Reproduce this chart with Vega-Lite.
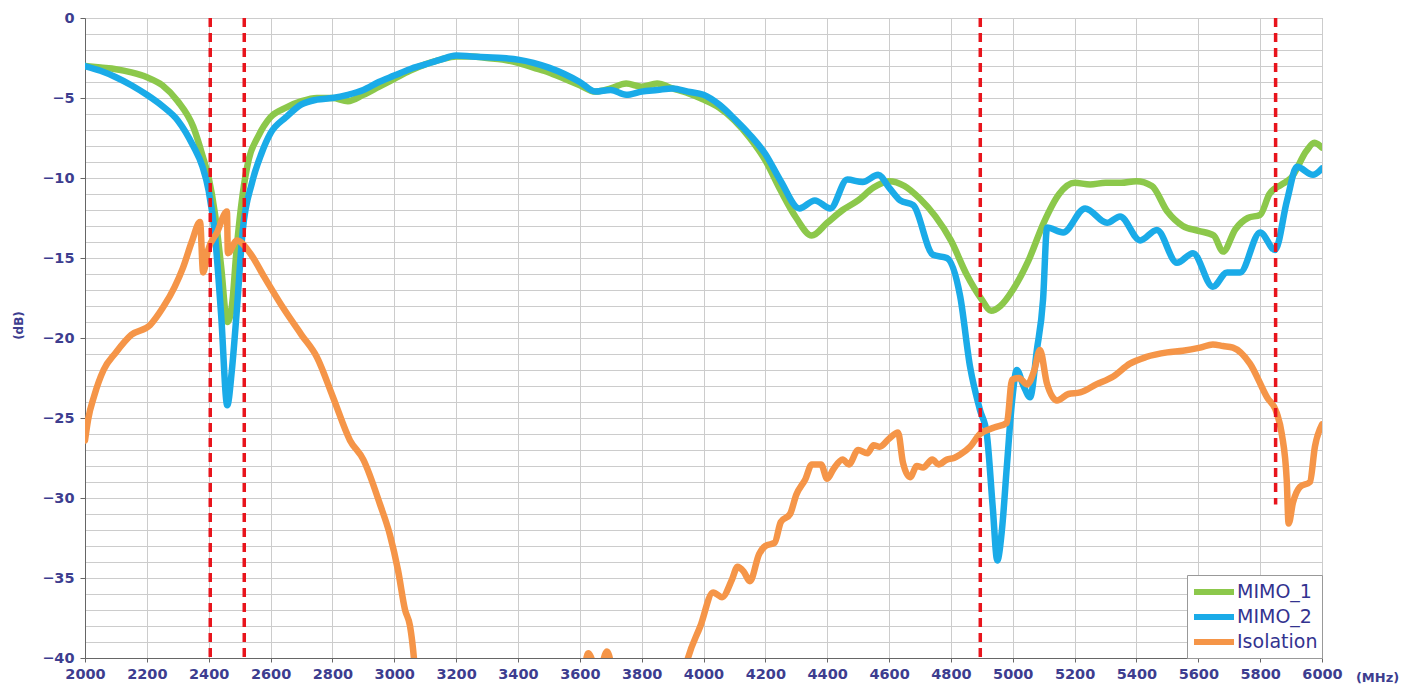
{
  "$schema": "https://vega.github.io/schema/vega-lite/v6.json",
  "autosize": {"type": "none"},
  "width": 1237,
  "height": 640,
  "padding": {"left": 85, "top": 18, "right": 102, "bottom": 33},
  "background": "white",
  "config": {
    "view": {"stroke": "#a8a8a8", "strokeWidth": 1},
    "axis": {
      "labelFont": "DejaVu Sans",
      "labelFontWeight": "bold",
      "labelFontSize": 14.5,
      "labelColor": "#3d3d8f",
      "gridColor": "#cccccc",
      "gridWidth": 1,
      "domainColor": "#666666",
      "tickColor": "#666666",
      "titleFont": "DejaVu Sans",
      "titleFontWeight": "bold",
      "titleColor": "#3d3d8f"
    }
  },
  "datasets": {
    "curves": [
      {"s":"MIMO_1","f":2000,"v":-3.0},{"s":"MIMO_1","f":2050,"v":-3.1},{"s":"MIMO_1","f":2100,"v":-3.2},{"s":"MIMO_1","f":2150,"v":-3.4},{"s":"MIMO_1","f":2200,"v":-3.7},{"s":"MIMO_1","f":2250,"v":-4.2},{"s":"MIMO_1","f":2300,"v":-5.2},{"s":"MIMO_1","f":2350,"v":-6.8},{"s":"MIMO_1","f":2380,"v":-8.6},{"s":"MIMO_1","f":2400,"v":-10.0},{"s":"MIMO_1","f":2420,"v":-12.2},{"s":"MIMO_1","f":2440,"v":-15.5},{"s":"MIMO_1","f":2460,"v":-19.0},{"s":"MIMO_1","f":2475,"v":-18.0},{"s":"MIMO_1","f":2490,"v":-14.5},{"s":"MIMO_1","f":2510,"v":-11.0},{"s":"MIMO_1","f":2530,"v":-8.8},{"s":"MIMO_1","f":2560,"v":-7.4},{"s":"MIMO_1","f":2600,"v":-6.2},{"s":"MIMO_1","f":2650,"v":-5.6},{"s":"MIMO_1","f":2700,"v":-5.2},{"s":"MIMO_1","f":2750,"v":-5.0},{"s":"MIMO_1","f":2800,"v":-5.0},{"s":"MIMO_1","f":2850,"v":-5.2},{"s":"MIMO_1","f":2900,"v":-4.8},{"s":"MIMO_1","f":2950,"v":-4.3},{"s":"MIMO_1","f":3000,"v":-3.8},{"s":"MIMO_1","f":3050,"v":-3.3},{"s":"MIMO_1","f":3100,"v":-2.9},{"s":"MIMO_1","f":3150,"v":-2.6},{"s":"MIMO_1","f":3200,"v":-2.4},{"s":"MIMO_1","f":3250,"v":-2.4},{"s":"MIMO_1","f":3300,"v":-2.5},{"s":"MIMO_1","f":3350,"v":-2.6},{"s":"MIMO_1","f":3400,"v":-2.8},{"s":"MIMO_1","f":3450,"v":-3.1},{"s":"MIMO_1","f":3500,"v":-3.4},{"s":"MIMO_1","f":3550,"v":-3.8},{"s":"MIMO_1","f":3600,"v":-4.2},{"s":"MIMO_1","f":3650,"v":-4.6},{"s":"MIMO_1","f":3700,"v":-4.4},{"s":"MIMO_1","f":3750,"v":-4.1},{"s":"MIMO_1","f":3800,"v":-4.3},{"s":"MIMO_1","f":3850,"v":-4.1},{"s":"MIMO_1","f":3900,"v":-4.4},{"s":"MIMO_1","f":3950,"v":-4.7},{"s":"MIMO_1","f":4000,"v":-5.1},{"s":"MIMO_1","f":4050,"v":-5.6},{"s":"MIMO_1","f":4100,"v":-6.4},{"s":"MIMO_1","f":4150,"v":-7.5},{"s":"MIMO_1","f":4200,"v":-8.9},{"s":"MIMO_1","f":4250,"v":-10.8},{"s":"MIMO_1","f":4300,"v":-12.5},{"s":"MIMO_1","f":4350,"v":-13.6},{"s":"MIMO_1","f":4400,"v":-12.8},{"s":"MIMO_1","f":4450,"v":-12.0},{"s":"MIMO_1","f":4500,"v":-11.4},{"s":"MIMO_1","f":4550,"v":-10.6},{"s":"MIMO_1","f":4600,"v":-10.2},{"s":"MIMO_1","f":4650,"v":-10.5},{"s":"MIMO_1","f":4700,"v":-11.3},{"s":"MIMO_1","f":4750,"v":-12.4},{"s":"MIMO_1","f":4800,"v":-13.9},{"s":"MIMO_1","f":4850,"v":-16.0},{"s":"MIMO_1","f":4900,"v":-17.6},{"s":"MIMO_1","f":4930,"v":-18.3},{"s":"MIMO_1","f":4960,"v":-18.0},{"s":"MIMO_1","f":5000,"v":-17.0},{"s":"MIMO_1","f":5050,"v":-15.2},{"s":"MIMO_1","f":5100,"v":-12.8},{"s":"MIMO_1","f":5150,"v":-11.0},{"s":"MIMO_1","f":5200,"v":-10.3},{"s":"MIMO_1","f":5250,"v":-10.4},{"s":"MIMO_1","f":5300,"v":-10.3},{"s":"MIMO_1","f":5350,"v":-10.3},{"s":"MIMO_1","f":5400,"v":-10.2},{"s":"MIMO_1","f":5450,"v":-10.5},{"s":"MIMO_1","f":5500,"v":-12.1},{"s":"MIMO_1","f":5550,"v":-13.0},{"s":"MIMO_1","f":5600,"v":-13.3},{"s":"MIMO_1","f":5650,"v":-13.6},{"s":"MIMO_1","f":5680,"v":-14.6},{"s":"MIMO_1","f":5720,"v":-13.2},{"s":"MIMO_1","f":5760,"v":-12.5},{"s":"MIMO_1","f":5800,"v":-12.3},{"s":"MIMO_1","f":5830,"v":-11.0},{"s":"MIMO_1","f":5870,"v":-10.4},{"s":"MIMO_1","f":5900,"v":-10.0},{"s":"MIMO_1","f":5950,"v":-8.3},{"s":"MIMO_1","f":5975,"v":-7.8},{"s":"MIMO_1","f":6000,"v":-8.1},
      {"s":"MIMO_2","f":2000,"v":-3.0},{"s":"MIMO_2","f":2050,"v":-3.3},{"s":"MIMO_2","f":2100,"v":-3.7},{"s":"MIMO_2","f":2150,"v":-4.2},{"s":"MIMO_2","f":2200,"v":-4.8},{"s":"MIMO_2","f":2250,"v":-5.5},{"s":"MIMO_2","f":2300,"v":-6.4},{"s":"MIMO_2","f":2350,"v":-8.0},{"s":"MIMO_2","f":2380,"v":-9.3},{"s":"MIMO_2","f":2400,"v":-10.8},{"s":"MIMO_2","f":2420,"v":-13.5},{"s":"MIMO_2","f":2440,"v":-18.5},{"s":"MIMO_2","f":2460,"v":-24.2},{"s":"MIMO_2","f":2475,"v":-22.0},{"s":"MIMO_2","f":2490,"v":-18.5},{"s":"MIMO_2","f":2510,"v":-13.3},{"s":"MIMO_2","f":2540,"v":-10.3},{"s":"MIMO_2","f":2570,"v":-8.5},{"s":"MIMO_2","f":2600,"v":-7.2},{"s":"MIMO_2","f":2650,"v":-6.2},{"s":"MIMO_2","f":2700,"v":-5.4},{"s":"MIMO_2","f":2750,"v":-5.1},{"s":"MIMO_2","f":2800,"v":-5.0},{"s":"MIMO_2","f":2850,"v":-4.8},{"s":"MIMO_2","f":2900,"v":-4.5},{"s":"MIMO_2","f":2950,"v":-4.0},{"s":"MIMO_2","f":3000,"v":-3.6},{"s":"MIMO_2","f":3050,"v":-3.2},{"s":"MIMO_2","f":3100,"v":-2.9},{"s":"MIMO_2","f":3150,"v":-2.6},{"s":"MIMO_2","f":3200,"v":-2.35},{"s":"MIMO_2","f":3250,"v":-2.4},{"s":"MIMO_2","f":3300,"v":-2.45},{"s":"MIMO_2","f":3350,"v":-2.5},{"s":"MIMO_2","f":3400,"v":-2.6},{"s":"MIMO_2","f":3450,"v":-2.8},{"s":"MIMO_2","f":3500,"v":-3.1},{"s":"MIMO_2","f":3550,"v":-3.5},{"s":"MIMO_2","f":3600,"v":-4.0},{"s":"MIMO_2","f":3650,"v":-4.6},{"s":"MIMO_2","f":3700,"v":-4.5},{"s":"MIMO_2","f":3750,"v":-4.8},{"s":"MIMO_2","f":3800,"v":-4.6},{"s":"MIMO_2","f":3850,"v":-4.5},{"s":"MIMO_2","f":3900,"v":-4.4},{"s":"MIMO_2","f":3950,"v":-4.6},{"s":"MIMO_2","f":4000,"v":-4.8},{"s":"MIMO_2","f":4050,"v":-5.4},{"s":"MIMO_2","f":4100,"v":-6.3},{"s":"MIMO_2","f":4150,"v":-7.3},{"s":"MIMO_2","f":4200,"v":-8.5},{"s":"MIMO_2","f":4250,"v":-10.2},{"s":"MIMO_2","f":4310,"v":-11.9},{"s":"MIMO_2","f":4360,"v":-11.4},{"s":"MIMO_2","f":4410,"v":-11.9},{"s":"MIMO_2","f":4465,"v":-10.1},{"s":"MIMO_2","f":4515,"v":-10.25},{"s":"MIMO_2","f":4565,"v":-9.8},{"s":"MIMO_2","f":4600,"v":-10.6},{"s":"MIMO_2","f":4636,"v":-11.4},{"s":"MIMO_2","f":4678,"v":-11.7},{"s":"MIMO_2","f":4742,"v":-14.8},{"s":"MIMO_2","f":4787,"v":-15.0},{"s":"MIMO_2","f":4830,"v":-17.4},{"s":"MIMO_2","f":4862,"v":-21.8},{"s":"MIMO_2","f":4894,"v":-24.5},{"s":"MIMO_2","f":4916,"v":-26.0},{"s":"MIMO_2","f":4935,"v":-30.5},{"s":"MIMO_2","f":4950,"v":-33.9},{"s":"MIMO_2","f":4965,"v":-32.0},{"s":"MIMO_2","f":4981,"v":-28.0},{"s":"MIMO_2","f":4998,"v":-23.9},{"s":"MIMO_2","f":5013,"v":-22.0},{"s":"MIMO_2","f":5035,"v":-23.0},{"s":"MIMO_2","f":5056,"v":-23.7},{"s":"MIMO_2","f":5078,"v":-20.75},{"s":"MIMO_2","f":5098,"v":-17.6},{"s":"MIMO_2","f":5111,"v":-13.1},{"s":"MIMO_2","f":5163,"v":-13.4},{"s":"MIMO_2","f":5234,"v":-11.9},{"s":"MIMO_2","f":5305,"v":-12.8},{"s":"MIMO_2","f":5347,"v":-12.4},{"s":"MIMO_2","f":5412,"v":-13.9},{"s":"MIMO_2","f":5466,"v":-13.25},{"s":"MIMO_2","f":5531,"v":-15.3},{"s":"MIMO_2","f":5583,"v":-14.7},{"s":"MIMO_2","f":5647,"v":-16.8},{"s":"MIMO_2","f":5693,"v":-15.9},{"s":"MIMO_2","f":5735,"v":-15.9},{"s":"MIMO_2","f":5800,"v":-13.4},{"s":"MIMO_2","f":5848,"v":-14.5},{"s":"MIMO_2","f":5887,"v":-11.4},{"s":"MIMO_2","f":5919,"v":-9.3},{"s":"MIMO_2","f":5971,"v":-9.8},{"s":"MIMO_2","f":6000,"v":-9.4},
      {"s":"Isolation","f":2000,"v":-26.4},{"s":"Isolation","f":2010,"v":-25.1},{"s":"Isolation","f":2030,"v":-23.6},{"s":"Isolation","f":2060,"v":-22.0},{"s":"Isolation","f":2100,"v":-20.9},{"s":"Isolation","f":2150,"v":-19.8},{"s":"Isolation","f":2210,"v":-19.2},{"s":"Isolation","f":2252,"v":-18.1},{"s":"Isolation","f":2290,"v":-16.8},{"s":"Isolation","f":2317,"v":-15.6},{"s":"Isolation","f":2345,"v":-14.0},{"s":"Isolation","f":2372,"v":-12.75},{"s":"Isolation","f":2382,"v":-15.9},{"s":"Isolation","f":2398,"v":-14.5},{"s":"Isolation","f":2427,"v":-13.4},{"s":"Isolation","f":2459,"v":-12.1},{"s":"Isolation","f":2462,"v":-14.7},{"s":"Isolation","f":2491,"v":-13.9},{"s":"Isolation","f":2534,"v":-14.7},{"s":"Isolation","f":2580,"v":-16.2},{"s":"Isolation","f":2640,"v":-18.1},{"s":"Isolation","f":2700,"v":-19.8},{"s":"Isolation","f":2750,"v":-21.2},{"s":"Isolation","f":2802,"v":-23.7},{"s":"Isolation","f":2857,"v":-26.4},{"s":"Isolation","f":2900,"v":-27.6},{"s":"Isolation","f":2954,"v":-30.4},{"s":"Isolation","f":2986,"v":-32.3},{"s":"Isolation","f":3012,"v":-34.5},{"s":"Isolation","f":3035,"v":-37.0},{"s":"Isolation","f":3051,"v":-38.0},{"s":"Isolation","f":3064,"v":-40.1},{"s":"Isolation","f":3080,"v":-45},{"s":"Isolation","f":3590,"v":-45},{"s":"Isolation","f":3627,"v":-39.7},{"s":"Isolation","f":3660,"v":-41},{"s":"Isolation","f":3688,"v":-39.6},{"s":"Isolation","f":3710,"v":-41},{"s":"Isolation","f":3900,"v":-45},{"s":"Isolation","f":3947,"v":-40.2},{"s":"Isolation","f":3990,"v":-38.0},{"s":"Isolation","f":4031,"v":-35.9},{"s":"Isolation","f":4060,"v":-36.2},{"s":"Isolation","f":4092,"v":-35.1},{"s":"Isolation","f":4110,"v":-34.3},{"s":"Isolation","f":4130,"v":-34.6},{"s":"Isolation","f":4150,"v":-35.2},{"s":"Isolation","f":4180,"v":-33.5},{"s":"Isolation","f":4200,"v":-33.0},{"s":"Isolation","f":4230,"v":-32.8},{"s":"Isolation","f":4250,"v":-31.5},{"s":"Isolation","f":4280,"v":-31.0},{"s":"Isolation","f":4300,"v":-29.8},{"s":"Isolation","f":4330,"v":-28.8},{"s":"Isolation","f":4350,"v":-27.9},{"s":"Isolation","f":4380,"v":-27.9},{"s":"Isolation","f":4400,"v":-28.8},{"s":"Isolation","f":4420,"v":-28.2},{"s":"Isolation","f":4450,"v":-27.6},{"s":"Isolation","f":4470,"v":-27.9},{"s":"Isolation","f":4500,"v":-27.0},{"s":"Isolation","f":4530,"v":-27.2},{"s":"Isolation","f":4550,"v":-26.7},{"s":"Isolation","f":4570,"v":-26.8},{"s":"Isolation","f":4600,"v":-26.3},{"s":"Isolation","f":4629,"v":-25.9},{"s":"Isolation","f":4645,"v":-27.8},{"s":"Isolation","f":4668,"v":-28.7},{"s":"Isolation","f":4690,"v":-28.0},{"s":"Isolation","f":4710,"v":-28.1},{"s":"Isolation","f":4740,"v":-27.6},{"s":"Isolation","f":4760,"v":-27.9},{"s":"Isolation","f":4787,"v":-27.6},{"s":"Isolation","f":4810,"v":-27.5},{"s":"Isolation","f":4829,"v":-27.3},{"s":"Isolation","f":4862,"v":-26.8},{"s":"Isolation","f":4894,"v":-26.0},{"s":"Isolation","f":4940,"v":-25.6},{"s":"Isolation","f":4981,"v":-25.3},{"s":"Isolation","f":4998,"v":-22.6},{"s":"Isolation","f":5020,"v":-22.5},{"s":"Isolation","f":5046,"v":-22.9},{"s":"Isolation","f":5070,"v":-22.0},{"s":"Isolation","f":5088,"v":-20.75},{"s":"Isolation","f":5110,"v":-22.8},{"s":"Isolation","f":5143,"v":-23.9},{"s":"Isolation","f":5180,"v":-23.5},{"s":"Isolation","f":5218,"v":-23.4},{"s":"Isolation","f":5270,"v":-22.9},{"s":"Isolation","f":5325,"v":-22.4},{"s":"Isolation","f":5379,"v":-21.6},{"s":"Isolation","f":5430,"v":-21.2},{"s":"Isolation","f":5500,"v":-20.9},{"s":"Isolation","f":5550,"v":-20.8},{"s":"Isolation","f":5606,"v":-20.6},{"s":"Isolation","f":5647,"v":-20.4},{"s":"Isolation","f":5680,"v":-20.5},{"s":"Isolation","f":5712,"v":-20.6},{"s":"Isolation","f":5767,"v":-21.6},{"s":"Isolation","f":5822,"v":-23.7},{"s":"Isolation","f":5854,"v":-24.7},{"s":"Isolation","f":5870,"v":-26.0},{"s":"Isolation","f":5886,"v":-28.9},{"s":"Isolation","f":5892,"v":-31.6},{"s":"Isolation","f":5906,"v":-30.3},{"s":"Isolation","f":5929,"v":-29.3},{"s":"Isolation","f":5961,"v":-29.0},{"s":"Isolation","f":5977,"v":-26.8},{"s":"Isolation","f":6000,"v":-25.4}
    ],
    "markers": [
      {"f": 2405, "top": 0, "bot": -40},
      {"f": 2515, "top": 0, "bot": -40},
      {"f": 4895, "top": 0, "bot": -40},
      {"f": 5850, "top": 0, "bot": -30.4}
    ]
  },
  "layer": [
    {
      "data": {"name": "curves"},
      "mark": {"type": "line", "strokeWidth": 6.5, "clip": true, "interpolate": "monotone", "strokeCap": "round", "strokeJoin": "round"},
      "encoding": {
        "x": {
          "field": "f", "type": "quantitative",
          "scale": {"domain": [2000, 6000], "nice": false},
          "axis": {
            "values": [2000,2200,2400,2600,2800,3000,3200,3400,3600,3800,4000,4200,4400,4600,4800,5000,5200,5400,5600,5800,6000],
            "tickCount": 100,
            "format": "d",
            "labelPadding": 5,
            "tickSize": 4,
            "labelFlush": false,
            "labelOverlap": false,
            "title": "(MHz)",
            "titleFontSize": 13,
            "titleAlign": "center",
            "titleBaseline": "middle",
            "titleAnchor": "start",
            "titleX": 1292,
            "titleY": 19
          }
        },
        "y": {
          "field": "v", "type": "quantitative",
          "scale": {"domain": [-40, 0], "nice": false},
          "axis": {
            "values": [-40,-39,-38,-37,-36,-35,-34,-33,-32,-31,-30,-29,-28,-27,-26,-25,-24,-23,-22,-21,-20,-19,-18,-17,-16,-15,-14,-13,-12,-11,-10,-9,-8,-7,-6,-5,-4,-3,-2,-1,0],
            "tickCount": 100,
            "format": "d",
            "labelExpr": "datum.value % 5 === 0 ? datum.label : ''",
            "labelOverlap": false,
            "tickOpacity": {"condition": {"test": "datum.value % 5 === 0", "value": 1}, "value": 0},
            "tickSize": 5,
            "labelPadding": 6,
            "labelFlush": false,
            "title": "(dB)",
            "titleFontSize": 12,
            "titleAngle": -90,
            "titleAlign": "center",
            "titleBaseline": "middle",
            "titleX": -67,
            "titleY": 307
          }
        },
        "color": {
          "field": "s", "type": "nominal",
          "scale": {"domain": ["MIMO_1", "MIMO_2", "Isolation"], "range": ["#8cc84b", "#1aabe8", "#f59548"]},
          "legend": {
            "title": null,
            "orient": "bottom-right",
            "offset": 0,
            "padding": 4,
            "strokeColor": "#999999",
            "fillColor": "white",
            "symbolType": "M-2,0H2",
            "symbolSize": 400,
            "symbolStrokeWidth": 6,
            "symbolOffset": 10,
            "labelFont": "DejaVu Sans",
            "labelFontSize": 19,
            "labelColor": "#33338f",
            "labelOffset": 10,
            "rowPadding": 0
          }
        }
      }
    },
    {
      "data": {"name": "markers"},
      "mark": {"type": "rule", "color": "#e8141c", "strokeWidth": 3.5, "strokeDash": [9, 6]},
      "encoding": {
        "x": {"field": "f", "type": "quantitative"},
        "y": {"field": "top", "type": "quantitative"},
        "y2": {"field": "bot"}
      }
    }
  ]
}
